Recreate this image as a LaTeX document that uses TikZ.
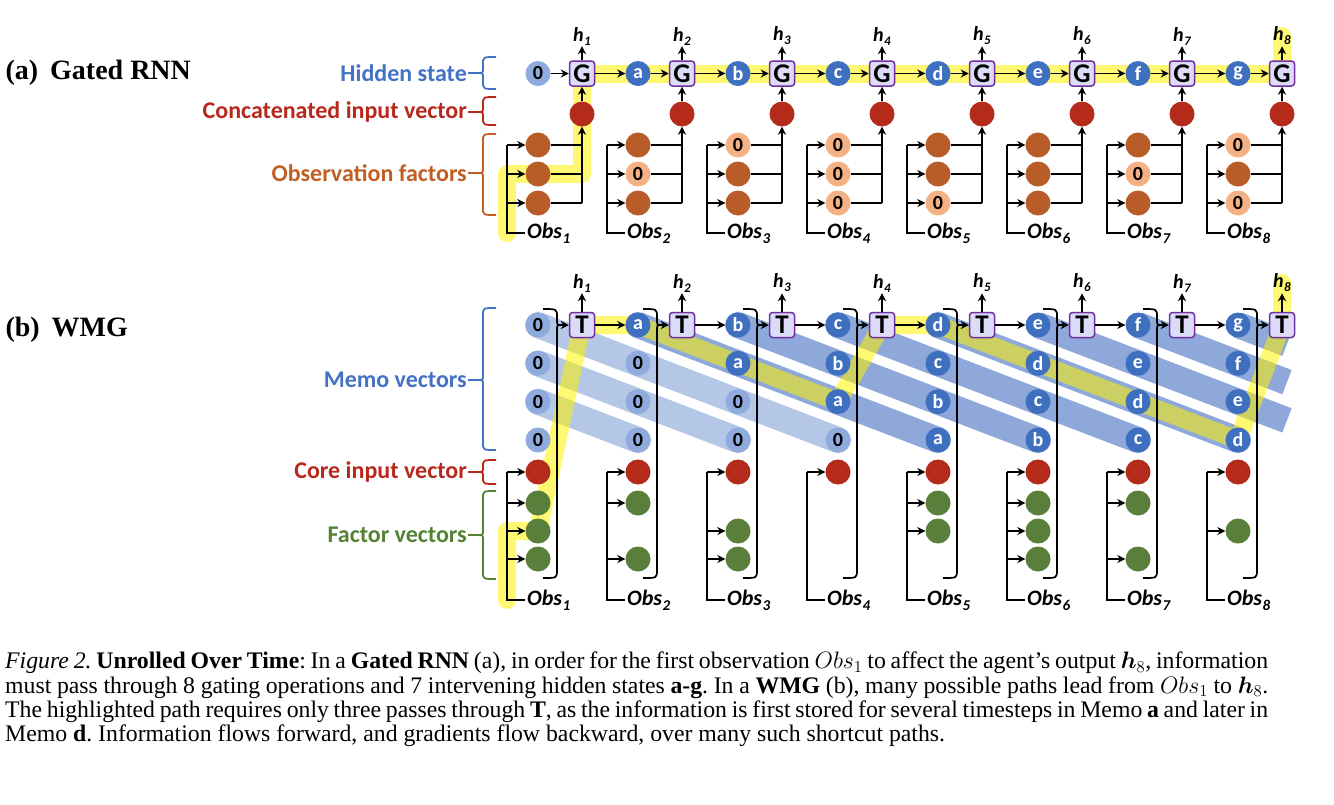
\RequirePackage{fix-cm}
\documentclass[tikz,border=0pt]{standalone}
\usepackage{amsmath}
\usepackage{fontspec}
\setmainfont{Liberation Serif}
\newfontfamily\calib{Carlito}
\usetikzlibrary{arrows.meta}
\pgfdeclarelayer{bandlayer}
\pgfdeclarelayer{hilayer}
\pgfsetlayers{bandlayer,hilayer,main}

\definecolor{hsblue}{HTML}{4472C4}
\definecolor{letblue}{HTML}{3F70BF}
\definecolor{zeroblue}{HTML}{8FAADC}
\definecolor{cZband}{HTML}{B4C7E7}
\definecolor{cLband}{HTML}{8EA8DA}
\definecolor{cred}{HTML}{B42A1B}
\definecolor{tred}{HTML}{B8281C}
\definecolor{corange}{HTML}{B85D27}
\definecolor{torange}{HTML}{C25E22}
\definecolor{lorange}{HTML}{F4B183}
\definecolor{cgreen}{HTML}{5A7F3B}
\definecolor{tgreen}{HTML}{548235}
\definecolor{gpurple}{HTML}{7030A0}
\definecolor{glav}{HTML}{DCDCF8}

\newcommand\dgCirc{\calib\bfseries\fontsize{20}{20}\selectfont}
\newcommand\dgGate{\calib\bfseries\fontsize{27}{27}\selectfont}
\newcommand\dgH{\calib\bfseries\itshape\fontsize{20}{20}\selectfont}
\newcommand\dgObs{\calib\bfseries\itshape\fontsize{22}{22}\selectfont}
\newcommand\dgLab{\calib\bfseries\fontsize{24}{24}\selectfont}
\newcommand\memoletter[1]{\ifcase#1 0\or a\or b\or c\or d\or e\or f\or g\fi}
\newcommand\hlabel[1]{h\kern0.5pt\raisebox{-4pt}{\fontsize{13}{13}\selectfont #1}}
\newcommand\obslabel[1]{Obs\kern0.5pt\raisebox{-5pt}{\fontsize{15}{15}\selectfont #1}}

\newcommand\obsrow[4]{%
  \if#4Z\node[obsZ] (OF#1-#2) at (438+100*#1,#3) {0};%
  \else\node[obsD] (OF#1-#2) at (438+100*#1,#3) {};\fi
  \coordinate (OL#1-#2) at (407+100*#1,#3);
  \coordinate (OR#1-#2) at (482+100*#1,#3);
  \draw[arr] (OL#1-#2) -- (OF#1-#2);
  \draw[ln] (OF#1-#2) -- (OR#1-#2);
}
\newcommand\greenrow[4]{%
  \if#4D\node[grc] (F#1-#2) at (438+100*#1,#3) {};%
  \coordinate (FL#1-#2) at (407+100*#1,#3);%
  \draw[arr] (FL#1-#2) -- (F#1-#2);\fi
}
\newcommand\sidebrace[5]{% node, tip y, top y, bottom y, colour
  \draw[#5, line width=1.8pt, line join=round]
    (#1.east) -- (478,#2) .. controls (483,#2) .. (483,#2-5) -- (483,#3+7) .. controls (483,#3) .. (496,#3)
    (478,#2) .. controls (483,#2) .. (483,#2+5) -- (483,#4-7) .. controls (483,#4) .. (496,#4);
}

\begin{document}
\begin{tikzpicture}[x=1pt,y=-1pt,
  ln/.style={line width=1.7pt, black},
  arr/.style={ln, -{Stealth[length=8pt,width=8pt]}},
  circ/.style={circle, inner sep=0pt, minimum size=25pt, font=\dgCirc},
  zc/.style={circ, fill=zeroblue, text=black},
  lc/.style={circ, fill=letblue, text=white},
  rc/.style={circ, fill=cred},
  obsD/.style={circ, fill=corange},
  obsZ/.style={circ, fill=lorange, text=black},
  grc/.style={circ, fill=cgreen},
  gate/.style={draw=gpurple, line width=1.5pt, fill=glav, rounded corners=3pt, minimum size=25pt, inner sep=0pt, font=\dgGate},
  hlab/.style={font=\dgH, inner sep=1pt},
  obslab/.style={font=\dgObs, anchor=west, inner sep=2pt},
  lab/.style={anchor=east, inner sep=1pt, font=\dgLab},
  zbandst/.style={line width=26pt, color=cZband, line cap=round},
  lbandst/.style={line width=26pt, color=cLband, line cap=round},
  hil/.style={line width=18pt, color=yellow, opacity=0.55, line cap=round, line join=round}]
\useasboundingbox (0,0) rectangle (1334,804);

% ---------- titles ----------
\node[anchor=west, font=\fontsize{28}{30}\selectfont\bfseries] (ta) at (2,73) {(a)\hspace{12pt}Gated RNN};
\node[anchor=west, font=\fontsize{28}{30}\selectfont\bfseries] (tb) at (2,330) {(b)\hspace{12pt}WMG};

% ---------- side labels ----------
\node[lab, text=hsblue] (lhs) at (468,73) {Hidden state};
\node[lab, text=tred] (lci) at (468,112) {Concatenated input vector};
\node[lab, text=torange] (lof) at (468,173) {Observation factors};
\node[lab, text=hsblue] (lmv) at (468,380) {Memo vectors};
\node[lab, text=tred] (lcore) at (468,472) {Core input vector};
\node[lab, text=tgreen] (lfv) at (468,535) {Factor vectors};
\sidebrace{lhs}{73}{57}{89}{hsblue}
\sidebrace{lci}{112}{97}{125}{tred}
\sidebrace{lof}{173}{134}{215}{torange}
\sidebrace{lmv}{380}{308}{450}{hsblue}
\sidebrace{lcore}{472}{460}{484}{tred}
\sidebrace{lfv}{535}{491}{579}{tgreen}

% ================= (a) Gated RNN =================
\node[zc] (HS0) at (538,73.5) {0};
\foreach \j in {1,...,8}{
  \node[gate] (G\j) at (482+100*\j,73.5) {G};
  \node[hlab] (hA\j) at (482+100*\j,36) {\hlabel{\j}};
  \node[rc] (R\j) at (482+100*\j,114) {};
  \draw[arr] (R\j) -- (G\j);
  \draw[arr] (G\j) -- (hA\j);
}
\foreach \j/\l in {1/a,2/b,3/c,4/d,5/e,6/f,7/g}{
  \node[lc] (HS\j) at (538+100*\j,73.5) {\l};
}
\draw[arr] (HS0) -- (G1);
\foreach \j [evaluate=\j as \jn using int(\j+1)] in {1,...,7}{
  \draw[arr] (G\j) -- (HS\j);
  \draw[arr] (HS\j) -- (G\jn);
}
\foreach \j/\pa/\pb/\pc in {1/D/D/D,2/D/Z/D,3/Z/D/D,4/Z/Z/Z,5/D/D/Z,6/D/D/D,7/D/Z/D,8/Z/D/Z}{
  \obsrow{\j}{1}{145}{\pa}
  \obsrow{\j}{2}{174}{\pb}
  \obsrow{\j}{3}{203}{\pc}
  \coordinate (OB\j) at (407+100*\j,233);
  \node[obslab] (ObsA\j) at (425+100*\j,233) {\obslabel{\j}};
  \draw[ln] (OL\j-1) -- (OB\j) -- (ObsA\j.west);
  \draw[arr] (OR\j-3) -- (R\j);
}

% ================= (b) WMG =================
\foreach \j in {1,...,8}{
  \node[gate] (T\j) at (482+100*\j,325) {T};
  \node[hlab] (hB\j) at (482+100*\j,283) {\hlabel{\j}};
  \draw[arr] (T\j) -- (hB\j);
  \foreach \r/\yy in {0/325,1/363.33,2/401.67,3/440}{
    \pgfmathtruncatemacro\idx{\j-1-\r}
    \ifnum\idx>0
      \node[lc] (M\j-\r) at (438+100*\j,\yy) {\memoletter{\idx}};
    \else
      \node[zc] (M\j-\r) at (438+100*\j,\yy) {0};
    \fi
  }
  \node[rc] (C\j) at (438+100*\j,472) {};
  \coordinate (CL\j) at (407+100*\j,472);
  \draw[arr] (CL\j) -- (C\j);
  \coordinate (FB\j) at (407+100*\j,600);
  \node[obslab] (ObsB\j) at (425+100*\j,600) {\obslabel{\j}};
  \draw[ln] (CL\j) -- (FB\j) -- (ObsB\j.west);
  \pgfmathsetmacro\bx{457+100*\j}
  \draw[ln] (\bx-14,309) .. controls (\bx,309) .. (\bx,317) -- (\bx,319)
     .. controls (\bx,325) .. (\bx+4,325) .. controls (\bx,325) .. (\bx,331)
     -- (\bx,570) .. controls (\bx,578) .. (\bx-14,578);
  \coordinate (BT\j) at (\bx+4,325);
  \draw[arr] (BT\j) -- (T\j);
}
\foreach \j/\pa/\pb/\pc in {1/D/D/D,2/D/Z/D,3/Z/D/D,4/Z/Z/Z,5/D/D/Z,6/D/D/D,7/D/Z/D,8/Z/D/Z}{
  \greenrow{\j}{1}{503}{\pa}
  \greenrow{\j}{2}{531}{\pb}
  \greenrow{\j}{3}{559}{\pc}
}
\foreach \j [evaluate=\j as \jn using int(\j+1)] in {1,...,7}{
  \draw[arr] (T\j) -- (M\jn-0);
}

% memo bands
\coordinate (BE5) at (1287,420.4);
\coordinate (BE6) at (1287,382.1);
\coordinate (BE7) at (1287,343.8);
\begin{pgfonlayer}{bandlayer}
  \draw[zbandst] (M1-0.center) -- (M4-3.center);
  \draw[zbandst] (M1-1.center) -- (M3-3.center);
  \draw[zbandst] (M1-2.center) -- (M2-3.center);
  \foreach \a/\b in {2/5,3/6,4/7,5/8}{
    \draw[lbandst] (M\a-0.center) -- (M\b-3.center);
  }
  \draw[lbandst, line cap=butt] (M6-0.center) -- (BE5);
  \draw[lbandst, line cap=butt] (M7-0.center) -- (BE6);
  \draw[lbandst, line cap=butt] (M8-0.center) -- (BE7);
\end{pgfonlayer}

% highlighted paths
\begin{pgfonlayer}{hilayer}
  \draw[hil] (OB1) -- (OL1-2) -- (OR1-2) -- (G1.center) -- (G8.center) -- (hA8.center);
  \draw[hil] (FB1) -- (FL1-2) -- (F1-2.center) -- (T1.center) -- (M2-0.center)
     -- (M4-2.center) -- (T4.center) -- (M5-0.center) -- (M8-3.center)
     -- (T8.center) -- (hB8.center);
\end{pgfonlayer}

% ---------- caption ----------
\node[anchor=north west, inner sep=0pt, text width=1263pt, align=justify,
      font=\fontsize{23.75}{24.2}\selectfont] (cap) at (5,652) {\noindent\frenchspacing
{\itshape Figure 2.} \textbf{Unrolled Over Time}: In a \textbf{Gated RNN} (a), in order for the first observation $Obs_1$ to affect the agent's output $\boldsymbol{h}_8$, information\linebreak
must pass through 8 gating operations and 7 intervening hidden states \textbf{a-g}. In a \textbf{WMG} (b), many possible paths lead from $Obs_1$ to $\boldsymbol{h}_8$.\linebreak
The highlighted path requires only three passes through \textbf{T}, as the information is first stored for several timesteps in Memo \textbf{a} and later in\linebreak
Memo \textbf{d}. Information flows forward, and gradients flow backward, over many such shortcut paths.};
\end{tikzpicture}
\end{document}
